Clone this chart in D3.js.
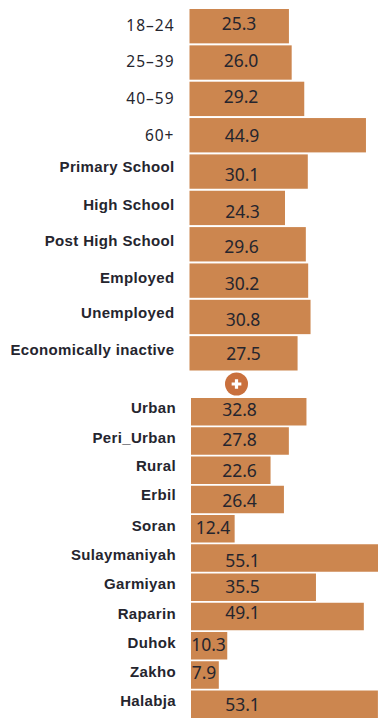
<!DOCTYPE html>
<html>
<head>
<meta charset="utf-8">
<script src="https://cdn.jsdelivr.net/npm/d3@7/dist/d3.min.js"></script>
<style>
  html, body { margin: 0; padding: 0; background: #fff; }
  svg { display: block; }
</style>
</head>
<body>
<svg id="chart" width="378" height="718"></svg>
<script>
// Demographic breakdown: age, education and employment
const personCategories = ["18–24", "25–39", "40–59", "60+", "Primary School", "High School",
  "Post High School", "Employed", "Unemployed", "Economically inactive"];
const personValues = ["25.3", "26.0", "29.2", "44.9", "30.1", "24.3", "29.6", "30.2", "30.8", "27.5"];

// Geographic breakdown: settlement type and governorate or district
const placeCategories = ["Urban", "Peri_Urban", "Rural", "Erbil", "Soran", "Sulaymaniyah",
  "Garmiyan", "Raparin", "Duhok", "Zakho", "Halabja"];
const placeValues = ["32.8", "27.8", "22.6", "26.4", "12.4", "55.1", "35.5", "49.1", "10.3", "7.9", "53.1"];

// Hand placement of the value labels, [dx from the group's label column, dy from the row centre]
const personValueNudge = [[0, -2], [2, -1.5], [2, -2], [3, 1], [3, 3], [3.5, 4], [2.5, 3], [3, 3], [4, 3], [4.5, 1]];
const placeValueNudge = [[0, -2], [0, -1], [0, 1], [0, 1], [-26.5, -1], [3, 3], [3, 0], [3, -4], [-31, -1], [-35.5, -2], [3, 1]];
// Age labels sit lower than the bold ones, and the bold labels rise in the lower rows
const personLabelNudge = [-1, -1, 0, 0, -5, -3, -4, -3, -4, -4];
const placeLabelNudge = [-4, -3, -4, -5, -3, -3, -4, -3, -3, -3, -4];

const ink = "#25252e";
const barFill = "#cc864f";
const svg = d3.select("#chart");

function drawGroup(opts) {
  const y = d3.scaleBand().domain(opts.categories).range(opts.yRange).paddingInner(opts.gap).paddingOuter(0);
  const x = d3.scaleLinear().domain([0, 10]).range([opts.x0, opts.x0 + opts.perTen]);
  const g = svg.append("g");

  g.selectAll("rect").data(opts.categories).join("rect")
    .attr("x", opts.x0)
    .attr("y", d => y(d))
    .attr("width", (d, i) => x(+opts.values[i]) - opts.x0)
    .attr("height", y.bandwidth())
    .attr("fill", barFill);

  g.selectAll("text.cat").data(opts.categories).join("text")
    .attr("class", "cat")
    .attr("x", opts.labelX)
    .attr("y", (d, i) => y(d) + y.bandwidth() / 2 + opts.labelNudge[i])
    .attr("dy", "0.35em")
    .attr("text-anchor", "end")
    .attr("fill", ink)
    .style("font-family", (d, i) => opts.isLight(i) ? "'Noto Sans', sans-serif" : "'Liberation Sans', sans-serif")
    .style("font-weight", (d, i) => opts.isLight(i) ? 400 : 700)
    .style("font-size", (d, i) => opts.isLight(i) ? "15.5px" : "15px")
    .style("letter-spacing", (d, i) => opts.isLight(i) ? "1px" : "0.35px")
    .text(d => d);

  g.selectAll("text.val").data(opts.values).join("text")
    .attr("class", "val")
    .attr("x", (d, i) => opts.valueX + opts.valueNudge[i][0])
    .attr("y", (d, i) => y(opts.categories[i]) + y.bandwidth() / 2 + opts.valueNudge[i][1])
    .attr("dy", "0.35em")
    .attr("text-anchor", "middle")
    .attr("fill", ink)
    .style("font-family", "'Noto Sans', sans-serif")
    .style("font-size", "17.5px")
    .text(d => d);
}

drawGroup({
  categories: personCategories, values: personValues,
  x0: 189.5, perTen: 39.3, yRange: [9, 370.5], gap: 0.055,
  labelX: 174.5, valueX: 239, labelNudge: personLabelNudge, valueNudge: personValueNudge,
  isLight: i => i < 4
});

drawGroup({
  categories: placeCategories, values: placeValues,
  x0: 191, perTen: 35.2, yRange: [398, 718], gap: 0.06,
  labelX: 176, valueX: 239.5, labelNudge: placeLabelNudge, valueNudge: placeValueNudge,
  isLight: () => false
});

// Round marker separating the two groups
const marker = svg.append("g").attr("transform", "translate(236.5,384)");
marker.append("circle").attr("r", 11.5).attr("fill", "#c9703d");
marker.append("path").attr("d", d3.symbol(d3.symbolCross, 52)()).attr("fill", "#fff");
</script>
</body>
</html>
